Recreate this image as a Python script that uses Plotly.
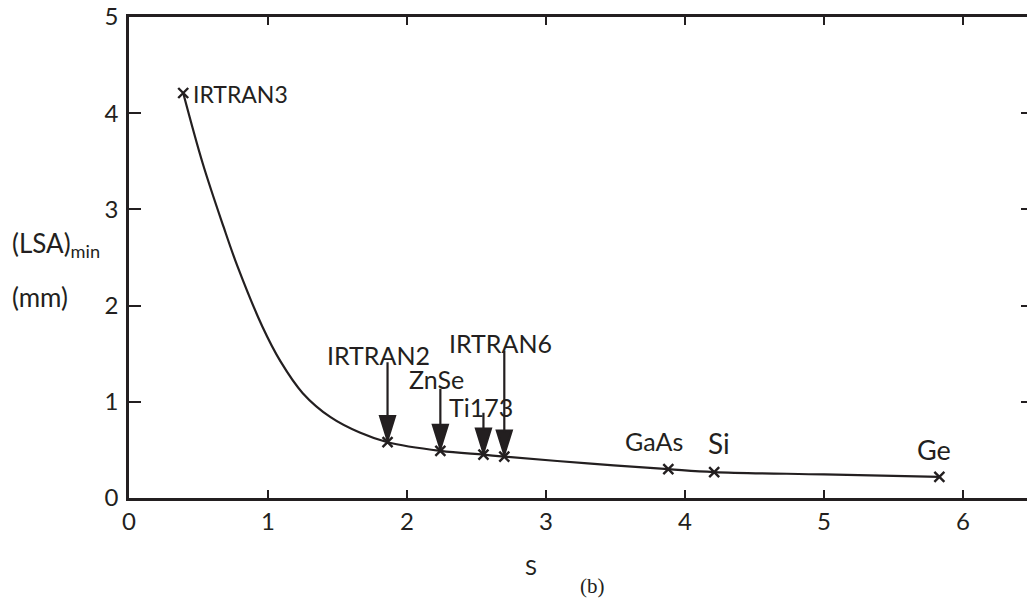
import plotly.graph_objects as go

# ---- data ----
curve_s = [0.39, 0.53, 0.68, 0.78, 0.96, 1.09, 1.25, 1.45, 1.66, 1.86, 2.24, 2.55, 2.70, 3.30, 3.88, 4.21, 5.00, 5.83]
curve_lsa = [4.21, 3.48, 2.82, 2.41, 1.78, 1.42, 1.09, 0.84, 0.68, 0.58, 0.49, 0.45, 0.43, 0.36, 0.30, 0.27, 0.245, 0.22]

materials = ["IRTRAN3", "IRTRAN2", "ZnSe", "Ti173", "IRTRAN6", "GaAs", "Si", "Ge"]
mat_s = [0.39, 1.86, 2.24, 2.55, 2.70, 3.88, 4.21, 5.83]
mat_lsa = [4.21, 0.58, 0.49, 0.45, 0.43, 0.30, 0.27, 0.22]

x_ticks = [0, 1, 2, 3, 4, 5, 6]
y_ticks = [0, 1, 2, 3, 4, 5]

# ---- style ----
INK = "#231f20"
FONT = "Lato"
W, H = 1027, 601
L, R, T, B = 129, 0, 17, 103
PW, PH = W - L - R, H - T - B
X_MAX = PW / 139.0  # 139 px per unit of S

# label offsets (px) relative to each material point: (xshift, yshift, anchor, size)
label_style = {
    "IRTRAN3": (8, -1, "left", 23),
    "IRTRAN2": (-9, 87, "center", 25),
    "ZnSe": (-4, 72, "center", 25),
    "Ti173": (-2, 48, "center", 25),
    "IRTRAN6": (-4, 114, "center", 25),
    "GaAs": (-14, 28, "center", 25),
    "Si": (5, 29, "center", 28),
    "Ge": (-5, 27, "center", 27),
}
# arrow shaft length (px) for the arrowed labels
arrow_len = {"IRTRAN2": 80, "ZnSe": 62, "Ti173": 42, "IRTRAN6": 106}

fig = go.Figure()

fig.add_trace(go.Scatter(
    x=curve_s, y=curve_lsa, mode="lines",
    line=dict(color=INK, width=2.2, shape="spline", smoothing=1.0),
    showlegend=False, hoverinfo="skip"))

fig.add_trace(go.Scatter(
    x=mat_s, y=mat_lsa, mode="markers",
    marker=dict(symbol="x-thin", size=10, line=dict(color=INK, width=2.4)),
    showlegend=False, hoverinfo="skip"))

# helper trace for mirrored top/right axes
fig.add_trace(go.Scatter(x=[None], y=[None], xaxis="x2", yaxis="y2",
                         showlegend=False, hoverinfo="skip"))

annotations = []
shapes = []
for name, s, v in zip(materials, mat_s, mat_lsa):
    xs, ys, anc, size = label_style[name]
    annotations.append(dict(
        x=s, y=v, xref="x", yref="y", text=name, showarrow=False,
        xanchor=anc, yanchor="middle", xshift=xs, yshift=ys,
        font=dict(family=FONT, size=size, color=INK)))
    if name in arrow_len:
        Ln = arrow_len[name]
        shapes.append(dict(
            type="path", xref="x", yref="y",
            xsizemode="pixel", ysizemode="pixel", xanchor=s, yanchor=v,
            path=f"M0,{Ln} L0,24 M-7.5,26 L7.5,26 L0,2 Z",
            line=dict(color=INK, width=2.2), fillcolor=INK))

def px_to_paper(px, py):
    return (px - L) / PW, (H - B - py) / PH

for txt, (px, py), anc, fam, size in [
    ("(LSA)<sub>min</sub>", (10, 244), "left", FONT, 26),
    ("(mm)", (10, 297), "left", FONT, 26),
    ("S", (531, 566), "center", FONT, 22),
    ("(b)", (592, 586), "center", "Liberation Serif", 21),
]:
    xp, yp = px_to_paper(px, py)
    annotations.append(dict(x=xp, y=yp, xref="paper", yref="paper", text=txt,
                            showarrow=False, xanchor=anc, yanchor="middle",
                            font=dict(family=fam, size=size, color=INK)))

axis_common = dict(showgrid=False, zeroline=False, linecolor=INK, tickcolor=INK,
                   ticks="inside", tickwidth=2.2,
                   tickfont=dict(family=FONT, size=24, color=INK))

fig.update_layout(
    width=W, height=H,
    margin=dict(l=L, r=R, t=T, b=B),
    paper_bgcolor="white", plot_bgcolor="white",
    xaxis=dict(range=[0, X_MAX], tickvals=x_ticks, showline=True, linewidth=2.5,
               ticklen=8, ticklabelstandoff=0, **axis_common),
    yaxis=dict(range=[0, 5], tickvals=y_ticks, showline=True, linewidth=2.5,
               ticklen=12, ticklabelstandoff=3, **axis_common),
    xaxis2=dict(range=[0, X_MAX], tickvals=x_ticks, overlaying="x", side="top",
                showline=True, linewidth=2.5, ticklen=8, showticklabels=False,
                **axis_common),
    yaxis2=dict(range=[0, 5], tickvals=y_ticks, overlaying="y", side="right",
                showline=False, ticklen=6, showticklabels=False, **axis_common),
    annotations=annotations,
    shapes=shapes,
)

fig.write_html("out.html")
